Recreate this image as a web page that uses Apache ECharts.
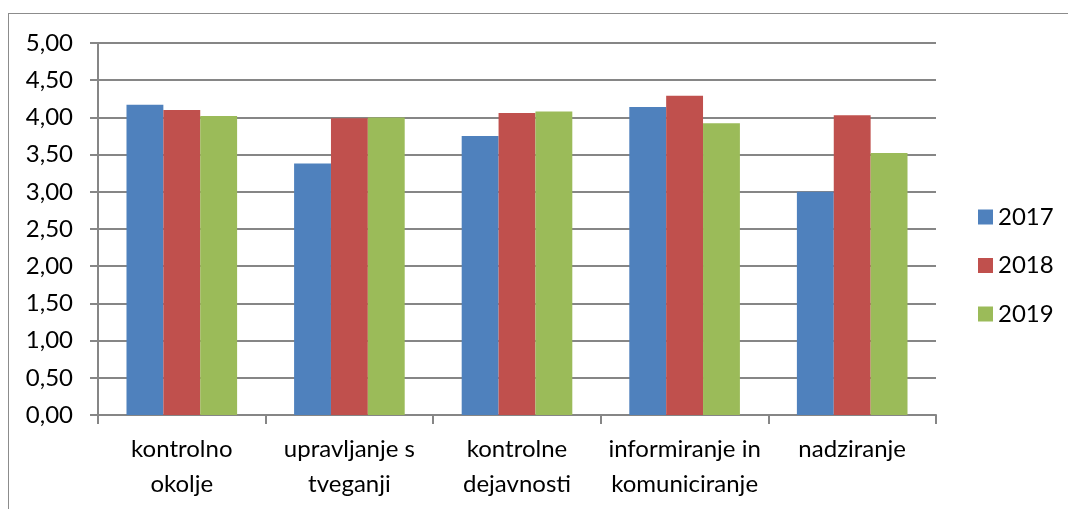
<!DOCTYPE html>
<html>
<head>
<meta charset="utf-8">
<script src="https://cdn.jsdelivr.net/npm/echarts@6/dist/echarts.min.js"></script>
<style>
    html, body { margin:0; padding:0; background:#fff; }
    #frame { position:absolute; left:8px; top:13px; width:1100px; height:520px; border:1px solid #8c8c8c; box-sizing:border-box; }
    #chart { position:absolute; left:0; top:0; width:1068px; height:509px; }
</style>
</head>
<body>
<div id="frame"></div>
<div id="chart"></div>
<script>
    // podatki
    const categories = ['kontrolno\nokolje', 'upravljanje s\ntveganji', 'kontrolne\ndejavnosti', 'informiranje in\nkomuniciranje', 'nadziranje']
    const years = ['2017', '2018', '2019']
    const v2017 = [4.17, 3.38, 3.75, 4.14, 3.00]
    const v2018 = [4.10, 3.99, 4.06, 4.29, 4.03]
    const v2019 = [4.02, 4.00, 4.08, 3.92, 3.52]
    const colors = ['#4F81BD', '#C0504D', '#9BBB59']

    const font = 'Lato, "Open Sans", sans-serif'
    const chart = echarts.init(document.getElementById('chart'))

    chart.setOption({
        animation: false,
        color: colors,
        textStyle: { fontFamily: font },
        grid: { left: 98, right: 132, top: 43, bottom: 94, containLabel: false },
        legend: {
            orient: 'vertical',
            left: 973, top: 200,
            itemWidth: 15, itemHeight: 15, itemGap: 24.5,
            icon: 'rect',
            textStyle: { fontSize: 24, lineHeight: 20, color: '#000', fontFamily: font, padding: [0, 0, 0, 0] },
            data: years
        },
        xAxis: {
            type: 'category',
            data: categories,
            axisLine: { lineStyle: { color: '#868686', width: 2 } },
            axisTick: { show: true, length: 9, lineStyle: { color: '#868686', width: 2 } },
            axisLabel: { fontSize: 24, color: '#000', lineHeight: 35, margin: 17, interval: 0 }
        },
        yAxis: {
            type: 'value',
            min: 0, max: 5, interval: 0.5,
            axisLine: { show: true, lineStyle: { color: '#868686', width: 2 } },
            axisTick: { show: true, length: 8, lineStyle: { color: '#868686', width: 2 } },
            splitLine: { lineStyle: { color: '#868686', width: 2 } },
            axisLabel: {
                fontSize: 24, color: '#000', margin: 25,
                formatter: v => v.toFixed(2).replace('.', ',')
            }
        },
        series: [
            { name: years[0], type: 'bar', data: v2017, barGap: '0%', barCategoryGap: '34%' },
            { name: years[1], type: 'bar', data: v2018, barGap: '0%', barCategoryGap: '34%' },
            { name: years[2], type: 'bar', data: v2019, barGap: '0%', barCategoryGap: '34%' }
        ]
    })
</script>
</body>
</html>
